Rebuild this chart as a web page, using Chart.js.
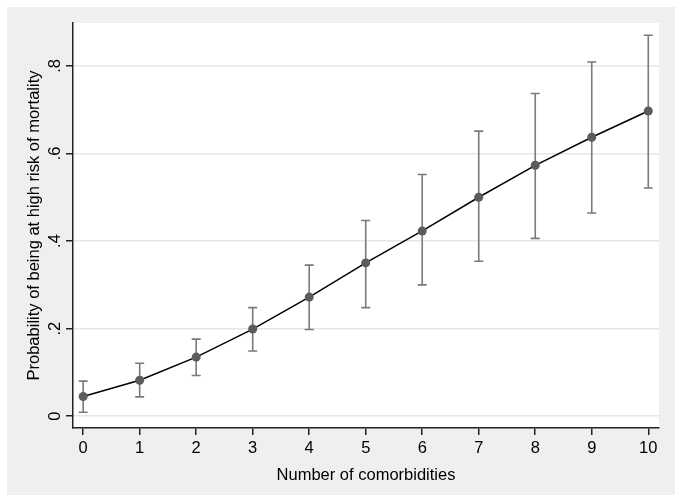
<!DOCTYPE html>
<html>
<head>
<meta charset="utf-8">
<script src="https://cdn.jsdelivr.net/npm/chart.js@4/dist/chart.umd.min.js"></script>
<style>
  html, body { margin: 0; padding: 0; background: #ffffff; }
  canvas { display: block; }
</style>
</head>
<body>
<canvas id="c" width="683" height="502"></canvas>
<script>
// ---- data ----
const comorbidities = [0, 1, 2, 3, 4, 5, 6, 7, 8, 9, 10];
const probability   = [0.045, 0.082, 0.135, 0.199, 0.272, 0.350, 0.423, 0.500, 0.573, 0.637, 0.697];
const ciLower       = [0.009, 0.044, 0.093, 0.149, 0.198, 0.248, 0.300, 0.354, 0.406, 0.464, 0.521];
const ciUpper       = [0.080, 0.121, 0.176, 0.248, 0.345, 0.447, 0.552, 0.651, 0.737, 0.809, 0.870];
const yTickValues   = [0, 0.2, 0.4, 0.6, 0.8];
const yTickLabels   = ['0', '.2', '.4', '.6', '.8'];
const xTickLabels   = ['0', '1', '2', '3', '4', '5', '6', '7', '8', '9', '10'];
const xTitle = 'Number of comorbidities';
const yTitle = 'Probability of being at high risk of mortality';

const FONT = { family: '"Liberation Sans", Arial, sans-serif', size: 16.5 };

const backgroundPlugin = {
  id: 'bg',
  beforeDraw(chart) {
    const ctx = chart.ctx, a = chart.chartArea;
    ctx.save();
    ctx.fillStyle = '#ffffff';
    ctx.fillRect(0, 0, chart.width, chart.height);
    ctx.fillStyle = '#efefef';
    ctx.fillRect(7, 7, chart.width - 15, chart.height - 14);
    ctx.fillStyle = '#ffffff';
    ctx.fillRect(a.left, a.top, a.right - a.left, a.bottom - a.top);
    ctx.restore();
  }
};

const errorBarPlugin = {
  id: 'errbars',
  beforeDatasetsDraw(chart) {
    const ctx = chart.ctx, xs = chart.scales.x, ys = chart.scales.y;
    ctx.save();
    ctx.strokeStyle = '#7a7a7a';
    ctx.lineWidth = 1.6;
    const cap = 4.5;
    comorbidities.forEach((c, i) => {
      const px = xs.getPixelForValue(c);
      const pl = ys.getPixelForValue(ciLower[i]);
      const ph = ys.getPixelForValue(ciUpper[i]);
      ctx.beginPath();
      ctx.moveTo(px, pl); ctx.lineTo(px, ph);
      ctx.moveTo(px - cap, pl); ctx.lineTo(px + cap, pl);
      ctx.moveTo(px - cap, ph); ctx.lineTo(px + cap, ph);
      ctx.stroke();
    });
    ctx.restore();
  }
};

new Chart(document.getElementById('c'), {
  type: 'line',
  data: {
    datasets: [{
      data: comorbidities.map((c, i) => ({ x: c, y: probability[i] })),
      borderColor: '#000000',
      borderWidth: 1.5,
      tension: 0,
      pointRadius: 4.5,
      pointBorderWidth: 0,
      pointBackgroundColor: '#5c5c5c',
      pointBorderColor: '#5c5c5c',
      fill: false
    }]
  },
  options: {
    responsive: false,
    animation: false,
    layout: { padding: { left: 0, top: 23, right: 24, bottom: 0 } },
    plugins: { legend: { display: false }, tooltip: { enabled: false } },
    scales: {
      x: {
        type: 'linear',
        min: -0.18, max: 10.19,
        afterBuildTicks: s => { s.ticks = comorbidities.map(v => ({ value: v })); },
        afterFit: s => { s.height = 74; },
        ticks: {
          autoSkip: false, maxRotation: 0, minRotation: 0,
          color: '#000', font: FONT, padding: 4,
          callback: (v, i) => xTickLabels[i]
        },
        grid: { drawOnChartArea: false, drawTicks: true, tickLength: 7, tickColor: '#222', tickWidth: 1.5, lineWidth: 1.5 },
        border: { display: true, color: '#222', width: 1.5 },
        title: { display: true, text: xTitle, color: '#000', font: FONT, padding: { top: 0, bottom: 17 } }
      },
      y: {
        type: 'linear',
        min: -0.027, max: 0.898,
        afterBuildTicks: s => { s.ticks = yTickValues.map(v => ({ value: v })); },
        afterFit: s => { s.width = 73; },
        ticks: {
          color: '#000', font: FONT, padding: 4,
          minRotation: 90, maxRotation: 90, crossAlign: 'center',
          callback: (v, i) => yTickLabels[i]
        },
        grid: { color: '#e6e6e6', lineWidth: 1.5, drawTicks: true, tickLength: 7, tickColor: '#222', tickWidth: 1.5 },
        border: { display: true, color: '#222', width: 1.5 },
        title: { display: true, text: yTitle, color: '#000', font: FONT, padding: { top: 25, bottom: 0 } }
      }
    }
  },
  plugins: [backgroundPlugin, errorBarPlugin]
});
</script>
</body>
</html>
